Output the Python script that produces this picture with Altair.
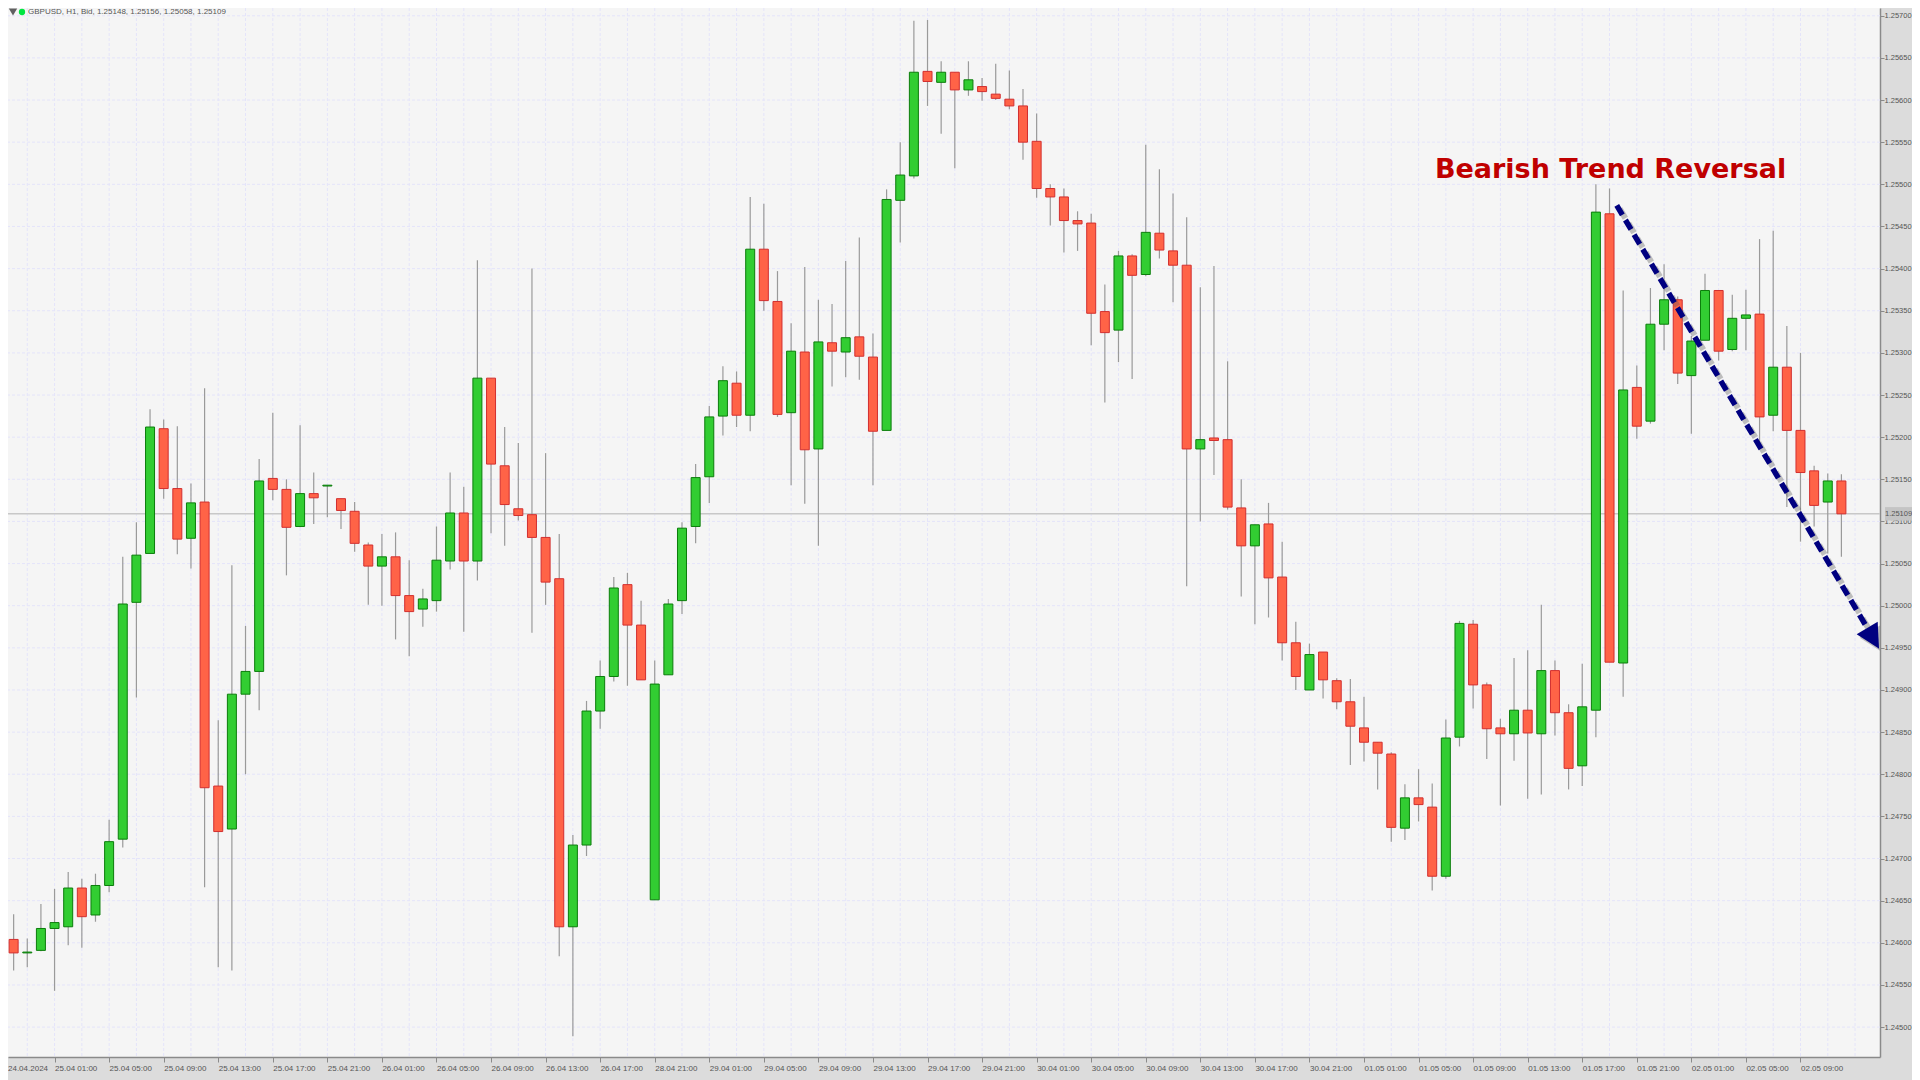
import altair as alt
import pandas as pd

# Prices are stored as points (1e-5) relative to 1.25000
OPEN = [-367,-396,-412,-409,-383,-381,-335,-367,-332,-277,
        4,62,210,139,80,123,-214,-265,-105,-78,
        151,138,94,133,142,127,112,72,47,58,
        12,-4,6,53,110,53,270,166,115,108,
        81,32,-381,-284,-125,-84,25,-23,-349,-82,
        6,94,153,225,264,226,423,361,229,301,
        186,312,301,319,295,208,481,510,634,621,
        633,612,616,607,601,593,551,495,485,457,
        454,349,327,415,393,442,421,404,186,199,
        197,116,71,97,34,-44,-100,-55,-89,-114,
        -145,-162,-176,-264,-228,-239,-321,-156,-22,-94,
        -145,-152,-124,-152,-77,-127,-190,-124,465,-68,
        259,219,334,363,273,315,374,304,341,346,
        226,283,208,160,123,148]
HIGH = [-362,-366,-395,-354,-336,-316,-324,-318,-254,58,
        99,233,221,213,145,258,-136,48,-24,174,
        229,150,214,158,143,127,123,75,85,87,
        54,20,94,158,141,410,270,212,193,400,
        181,85,-272,-113,-65,34,39,6,-65,8,
        99,168,237,284,278,485,477,397,335,402,
        363,358,409,437,323,494,550,694,695,646,
        633,646,626,643,635,613,584,500,495,468,
        465,381,421,417,547,518,489,461,378,403,
        290,150,96,122,76,-19,-45,-55,-86,-87,
        -108,-162,-174,-212,-194,-211,-135,-18,-17,-91,
        -134,-62,-53,1,-65,-117,-69,500,495,374,
        285,377,405,367,320,394,374,369,375,435,
        445,332,300,166,157,156]
LOW = [-396,-433,-429,-410,-457,-403,-406,-375,-340,-287,
       -109,62,127,61,44,-334,-429,-433,-200,-124,
       125,36,93,97,105,91,64,1,0,-40,
       -60,-25,-7,43,-31,30,86,71,101,-32,
       1,-416,-511,-297,-146,-90,-95,-88,-349,-82,
       -10,74,122,202,212,207,350,224,143,121,
       71,260,271,268,143,208,431,507,593,560,
       519,605,599,600,589,529,484,451,419,421,
       309,241,289,269,391,412,360,23,100,155,
       114,11,-22,-14,-65,-100,-100,-110,-123,-189,
       -185,-218,-280,-278,-256,-338,-324,-167,-122,-182,
       -237,-184,-229,-224,-154,-218,-214,-156,-67,-108,
       198,216,303,263,204,315,291,302,303,193,
       207,117,76,94,62,58]
CLOSE = [-391,-412,-411,-383,-376,-335,-369,-332,-280,2,
         60,212,139,79,122,-216,-268,-105,-78,148,
         138,93,133,128,143,113,74,47,58,12,
         -7,8,54,110,53,270,168,120,107,81,
         28,-381,-284,-125,-84,21,-23,-88,-93,2,
         92,152,224,267,226,423,362,227,302,185,
         313,302,318,296,207,482,511,633,622,633,
         612,624,610,602,593,550,495,485,457,453,
         347,324,415,392,443,422,404,186,197,196,
         117,71,96,33,-44,-84,-58,-88,-114,-143,
         -162,-175,-263,-228,-236,-321,-157,-21,-94,-146,
         -152,-124,-151,-77,-127,-193,-120,467,-67,256,
         213,334,363,276,314,374,302,341,345,224,
         283,208,158,119,148,109]

TIME_LABELS = ["24.04.2024", "25.04 01:00", "25.04 05:00", "25.04 09:00", "25.04 13:00",
               "25.04 17:00", "25.04 21:00", "26.04 01:00", "26.04 05:00", "26.04 09:00",
               "26.04 13:00", "26.04 17:00", "28.04 21:00", "29.04 01:00", "29.04 05:00",
               "29.04 09:00", "29.04 13:00", "29.04 17:00", "29.04 21:00", "30.04 01:00",
               "30.04 05:00", "30.04 09:00", "30.04 13:00", "30.04 17:00", "30.04 21:00",
               "01.05 01:00", "01.05 05:00", "01.05 09:00", "01.05 13:00", "01.05 17:00",
               "01.05 21:00", "02.05 01:00", "02.05 05:00", "02.05 09:00"]
TICK_BARS = [i * 4 for i in range(1, len(TIME_LABELS))]
GRID_BARS = list(range(2, 138, 2))
PRICE_TICKS = [round(1.245 + 0.0005 * i, 5) for i in range(25)]
LAST_PRICE = 1.25109
HEADER = "GBPUSD, H1, Bid, 1.25148, 1.25156, 1.25058, 1.25109"
ANNOTATION = "Bearish Trend Reversal"

ARROW_BAR = [118.53, 136.88]
ARROW_PRICE = [1.25475, 1.24974]
HEAD_BAR = [136.12, 137.66, 137.76]
HEAD_TOP = [1.24966, 1.24981, 1.24949]
HEAD_BOTTOM = [1.24966, 1.24950, 1.24949]
SHADOW_BAR_SHIFT = 0.22
SHADOW_PRICE_SHIFT = -0.00004

FONT = "Liberation Sans"
LABEL_SIZE = 8
PRICE_SIZE = 7.5
GREY_TEXT = "#555555"
AXIS_GREY = "#8a8a8a"

assert len(OPEN) == len(HIGH) == len(LOW) == len(CLOSE) == 136


def price(v):
    return round(1.25 + v / 1e5, 5)


bars = pd.DataFrame({
    "bar": range(len(OPEN)),
    "open": [price(v) for v in OPEN],
    "high": [price(v) for v in HIGH],
    "low": [price(v) for v in LOW],
    "close": [price(v) for v in CLOSE],
})
bars["dir"] = ["up" if c >= o else "down" for o, c in zip(bars.open, bars.close)]

x_scale = alt.Scale(domain=[0.5865, 137.83], nice=False, zero=False, padding=0)
y_scale = alt.Scale(domain=[1.244645, 1.257092], nice=False, zero=False, padding=0)
label_expr = "[" + ",".join(f"'{t}'" for t in TIME_LABELS) + "][datum.value/4]"

x_axis = alt.Axis(
    values=TICK_BARS, labelExpr=label_expr, title=None, grid=False,
    orient="bottom", tickSize=5, tickColor=AXIS_GREY, domainColor=AXIS_GREY,
    domainWidth=1.5, labelAlign="left", labelBaseline="middle", labelPadding=6,
    labelFlush=False, labelOverlap=False, labelBound=False, labelFont=FONT,
    labelFontSize=LABEL_SIZE, labelColor=GREY_TEXT,
)
y_axis = alt.Axis(
    values=PRICE_TICKS, format=".5f", title=None, grid=False, orient="right",
    tickSize=4, tickColor=AXIS_GREY, domainColor=AXIS_GREY, domainWidth=1.5,
    labelPadding=0, labelFlush=False, labelOverlap=False, labelBound=False,
    labelFont=FONT, labelFontSize=PRICE_SIZE, labelColor=GREY_TEXT,
)


def X(field="bar:Q"):
    return alt.X(field, scale=x_scale, axis=x_axis)


def Y(field):
    return alt.Y(field, scale=y_scale, axis=y_axis)


grid_style = dict(color="#e4e4fa", strokeWidth=1, strokeDash=[3, 2])
vgrid = alt.Chart(pd.DataFrame({"bar": GRID_BARS})).mark_rule(**grid_style).encode(x=X())
hgrid = alt.Chart(pd.DataFrame({"p": PRICE_TICKS})).mark_rule(**grid_style).encode(y=Y("p:Q"))

last_line = alt.Chart(pd.DataFrame({"p": [LAST_PRICE]})).mark_rule(
    color="#c8c8c8", strokeWidth=1.5).encode(y=Y("p:Q"))

wicks = alt.Chart(bars).mark_rule(color="#9a9a9a", strokeWidth=1.2, clip=True).encode(
    x=X(), y=Y("low:Q"), y2="high:Q")

dir_domain = ["up", "down"]
bodies = alt.Chart(bars).mark_bar(size=9, strokeWidth=1, clip=True).encode(
    x=X(),
    y=Y("open:Q"),
    y2="close:Q",
    fill=alt.Fill("dir:N", scale=alt.Scale(domain=dir_domain, range=["#32cd32", "#ff6347"]), legend=None),
    stroke=alt.Stroke("dir:N", scale=alt.Scale(domain=dir_domain, range=["#0b7d0b", "#d22f2f"]), legend=None),
)

arrow_df = pd.DataFrame({"bar": ARROW_BAR, "p": ARROW_PRICE})
head_df = pd.DataFrame({"bar": HEAD_BAR, "top": HEAD_TOP, "bottom": HEAD_BOTTOM})
shadow_arrow_df = arrow_df.assign(bar=arrow_df.bar + SHADOW_BAR_SHIFT, p=arrow_df.p + SHADOW_PRICE_SHIFT)
shadow_head_df = head_df.assign(bar=head_df.bar + SHADOW_BAR_SHIFT,
                                top=head_df.top + SHADOW_PRICE_SHIFT,
                                bottom=head_df.bottom + SHADOW_PRICE_SHIFT)
shadow_line = alt.Chart(shadow_arrow_df).mark_line(
    color="#555555", opacity=0.35, strokeWidth=6, strokeDash=[11, 6], clip=True
).encode(x=X(), y=Y("p:Q"))
shadow_head = alt.Chart(shadow_head_df).mark_area(
    color="#555555", opacity=0.35, clip=True
).encode(x=X(), y=Y("top:Q"), y2="bottom:Q")
arrow_line = alt.Chart(arrow_df).mark_line(
    color="#000080", strokeWidth=5.5, strokeDash=[11, 6]
).encode(x=X(), y=Y("p:Q"))
arrow_head = alt.Chart(head_df).mark_area(color="#000080").encode(
    x=X(), y=Y("top:Q"), y2="bottom:Q")

note = alt.Chart(pd.DataFrame({"bar": [105.2], "p": [1.25517], "t": [ANNOTATION]})).mark_text(
    align="left", baseline="middle", font="DejaVu Sans", fontWeight="bold",
    fontSize=27, color="#c00000"
).encode(x=X(), y=Y("p:Q"), text="t:N")

one = pd.DataFrame({"k": [0]})
last_box = alt.Chart(pd.DataFrame({"a": [1.25117], "b": [1.25101]})).mark_rect(color="#c4c4c4").encode(
    x=alt.value(1877), x2=alt.value(1904),
    y=Y("a:Q"), y2="b:Q")
last_text = alt.Chart(pd.DataFrame({"p": [LAST_PRICE], "t": [f"{LAST_PRICE:.5f}"]})).mark_text(
    align="left", baseline="middle", font=FONT, fontSize=PRICE_SIZE, color=GREY_TEXT
).encode(x=alt.value(1877), y=Y("p:Q"), text="t:N")

first_label = alt.Chart(one).mark_text(
    align="left", baseline="middle", font=FONT, fontSize=LABEL_SIZE, color=GREY_TEXT
).encode(x=alt.value(0), y=alt.value(1061), text=alt.value(TIME_LABELS[0]))
header = alt.Chart(one).mark_text(
    align="left", baseline="middle", font=FONT, fontSize=LABEL_SIZE, color=GREY_TEXT
).encode(x=alt.value(20), y=alt.value(4), text=alt.value(HEADER))
tri = alt.Chart(one).mark_point(shape="triangle-down", filled=True, size=70, color="#606060", opacity=1).encode(
    x=alt.value(5), y=alt.value(4))
dot = alt.Chart(one).mark_point(shape="circle", filled=True, size=40, color="#00e640", opacity=1).encode(
    x=alt.value(14), y=alt.value(4))

chart = alt.layer(
    vgrid, hgrid, last_line, wicks, bodies,
    shadow_line, shadow_head, arrow_line, arrow_head, note,
    last_box, last_text, first_label, header, tri, dot,
).properties(
    width=1872, height=1049,
    autosize=alt.AutoSizeParams(type="none"),
    padding={"left": 0, "top": 0, "right": 32, "bottom": 23},
    background="#dcdcdc",
).configure_view(fill="#f5f5f5", stroke=None)

chart.save("out.html", embed_options={"renderer": "svg", "actions": False})
